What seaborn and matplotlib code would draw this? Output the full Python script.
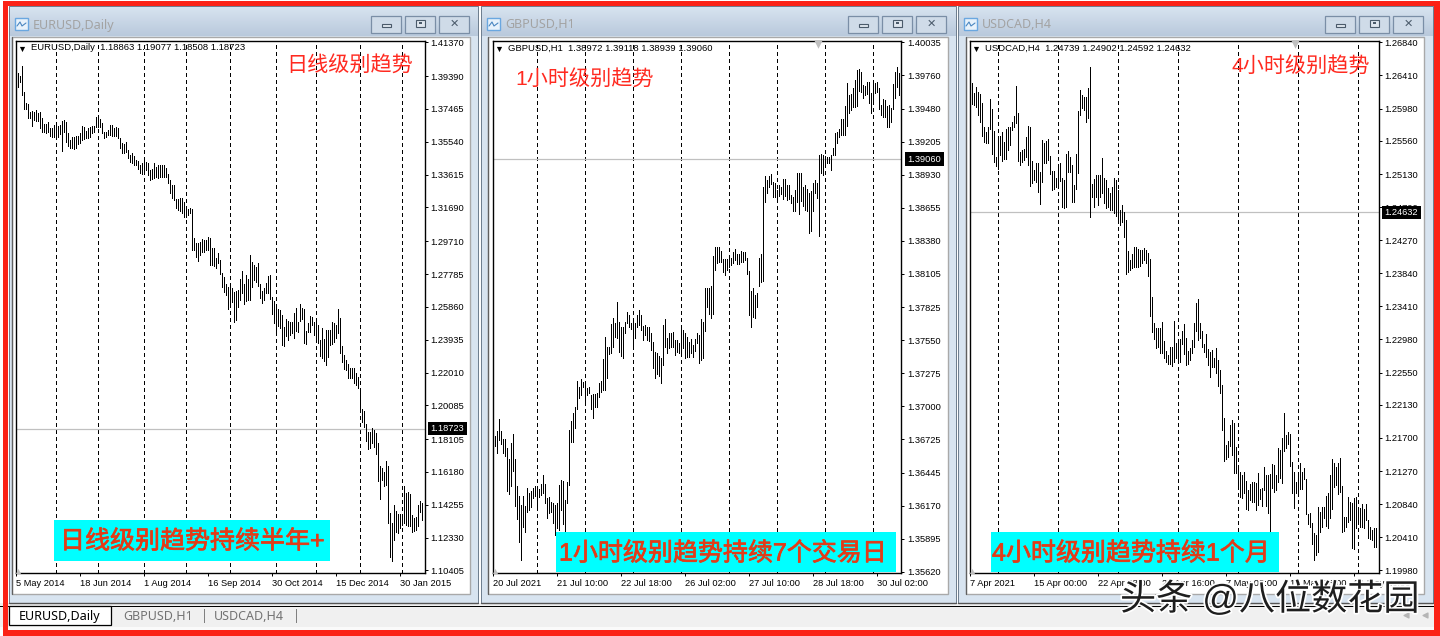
import numpy as np
import pandas as pd
import matplotlib
matplotlib.use("Agg")
import matplotlib.pyplot as plt
import matplotlib.patheffects as pe
from matplotlib.patches import Rectangle
import seaborn as sns

# ---------- data: (high, low) of each bar ----------
eur_hl = [(13887,13861),(13955,13873),(13940,13906),(13998,13828),(13844,13744),(13779,13744),(13775,13691),(13730,13691),(13734,13648),(13728,13682),(13738,13678),(13721,13678),(13728,13633),(13691,13613),(13658,13613),(13658,13607),(13668,13613),(13633,13590),(13637,13584),(13652,13584),(13656,13580),(13646,13584),(13652,13598),(13676,13500),(13682,13609),(13668,13555),(13603,13529),(13564,13515),(13580,13515),(13584,13512),(13588,13515),(13588,13541),(13603,13545),(13646,13564),(13642,13568),(13619,13574),(13633,13574),(13642,13580),(13646,13603),(13646,13613),(13701,13642),(13701,13639),(13685,13639),(13666,13607),(13613,13574),(13613,13584),(13623,13594),(13652,13594),(13652,13588),(13633,13590),(13642,13588),(13637,13574),(13574,13515),(13545,13490),(13541,13486),(13555,13496),(13506,13457),(13476,13437),(13486,13428),(13471,13418),(13447,13418),(13443,13392),(13418,13369),(13428,13365),(13447,13369),(13433,13388),(13428,13359),(13388,13330),(13394,13336),(13431,13340),(13408,13349),(13418,13340),(13418,13349),(13418,13349),(13418,13345),(13398,13349),(13365,13310),(13330,13252),(13300,13222),(13300,13213),(13218,13164),(13218,13154),(13222,13148),(13222,13138),(13203,13115),(13173,13111),(13158,13125),(13164,13138),(13158,12919),
(12988,12919),(12963,12880),(12963,12857),(12964,12890),(12982,12910),(12978,12910),(12978,12919),(12994,12919),(12988,12832),(12933,12832),(12929,12826),(12871,12812),(12904,12841),(12861,12777),(12783,12701),(12763,12675),(12720,12656),(12701,12572),(12708,12583),(12695,12617),(12675,12499),(12681,12509),(12685,12583),(12750,12626),(12796,12665),(12720,12603),(12773,12622),(12748,12626),(12890,12626),(12847,12705),(12832,12744),(12822,12734),(12845,12708),(12720,12636),(12681,12611),(12695,12626),(12728,12665),(12767,12669),(12773,12630),(12642,12544),(12622,12490),(12587,12441),(12572,12474),(12568,12460),(12538,12363),(12470,12359),(12513,12415),(12505,12392),(12499,12421),(12499,12431),(12552,12402),(12578,12447),(12499,12441),(12603,12505),(12578,12513),(12572,12376),(12447,12367),(12490,12441),(12533,12441),(12525,12480),(12499,12421),(12509,12382),(12480,12372),(12392,12298),(12460,12284),(12398,12271),(12451,12245),(12451,12294),(12451,12363),(12499,12367),(12490,12382),(12480,12402),(12574,12431),(12519,12318),(12357,12265),(12304,12220),(12275,12216),(12251,12167),(12226,12167),(12226,12167),(12226,12138),(12197,12128),(12177,12109),(12109,11987),(11985,11913),(11976,11884),
(11900,11802),(11851,11753),(11855,11757),(11874,11786),(11864,11767),(11845,11724),(11790,11567),(11653,11460),(11644,11571),(11620,11538),(11683,11542),(11653,11317),(11376,11118),(11317,11096),(11425,11220),(11392,11268),(11372,11263),(11372,11288),(11372,11307),(11536,11317),(11493,11307),(11499,11302),(11489,11302),(11366,11268),(11347,11274),(11356,11278),(11425,11302),(11448,11386),(11435,11337)]

gbp_hl = [(136718,136668),(136752,136668),(136793,136607),(136893,136718),(136793,136685),(136727,136607),(136724,136585),(136649,136296),(136560,136268),(136690,136337),(136768,136462),(136560,136171),(136335,136062),(136251,135870),(136176,135717),(136251,135995),(136168,135954),(136315,136120),(136279,136134),(136296,136157),(136315,136232),(136335,136251),(136301,136171),(136307,136240),(136351,136260),(136426,136279),(136351,136196),(136232,136065),(136246,136107),(136204,136120),(136190,136029),(136176,135926),(136190,135981),(136343,135968),(136385,136134),(136379,136018),(136218,135954),(136371,136190),(136802,136343),(136877,136702),(136943,136702),(136993,136818),(137214,136975),(137164,137072),(137228,137094),(137205,137164),(137200,137025),(137155,137094),(137164,137108),(137094,136975),(137100,136905),(137102,136991),(137108,136997),(137197,137080),(137211,137122),(137394,137136),(137581,137136),(137497,137239),(137492,137436),(137686,137442),(137739,137492),(137692,137581),(137867,137567),(137706,137455),(137664,137419),(137664,137400),(137706,137614),(137789,137692),(137761,137664),(137697,137642),(137706,137483),(137692,137567),(137761,137658),(137803,137678),(137761,137636),(137670,137553),(137678,137594),(137664,137553),(137664,137547),(137614,137469),(137533,137317),(137450,137239),(137442,137266),(137422,137253),(137400,137197),(137678,137344),(137728,137492),(137567,137442),(137614,137483),(137614,137492),(137622,137497),(137553,137428),(137553,137456),(137525,137442),(137650,137428),(137636,137483),(137614,137405),(137581,137408),(137539,137408),(137561,137442),(137511,137414),(137561,137464),(137608,137525),(137594,137364),(137728,137386),(137700,137405),(137984,137631),(137989,137831),(137984,137770),(138006,137733),(138253,137770),(138326,138137),(138326,138192),(138331,138206),(138298,138206),(138228,138123),(138228,138095),(138228,138137),(138248,138164),(138234,138178),(138289,138192),(138309,138220),(138270,138184),(138270,138184),(138298,138206),(138289,138206),(138289,138220),(138234,138103),(138128,137761),(137961,137664),(137984,137747),(137928,137733),(137942,137831),(138234,138003),(138270,138039),(138828,138045),(138920,138703),(138887,138778),(138920,138828),(138937,138853),(138870,138745),(138862,138745),(138803,138728),(138845,138753),(138828,138770),(138895,138728),(138895,138753),(138845,138720),(138845,138728),(138762,138695),(138745,138628),(138803,138628),(138945,138703),(138945,138603),(138945,138712),(138828,138670),(138845,138637),(138812,138628),(138778,138445),(138795,138461),(138862,138628),(138887,138778),(138862,138737),(139095,138420),(139104,138942),(139095,138929),(139087,139026),(139081,139026),(139081,139026),(139095,138970),(139151,139095),(139282,139095),(139290,139193),(139309,139248),(139393,139262),(139393,139262),(139504,139262),(139693,139337),(139596,139443),(139604,139471),(139651,139498),(139721,139498),(139804,139504),(139810,139632),(139790,139624),(139679,139568),(139671,139596),(139707,139604),(139707,139526),(139610,139443),(139693,139526),(139693,139610),(139707,139624),(139651,139476),(139512,139429),(139562,139415),(139554,139409),(139504,139332),(139512,139332),(139484,139373),(139685,139476),(139790,139568),(139832,139660),(139782,139596)]

cad_hl = [(126338,125991),(126308,126039),(126178,126026),(126256,126004),(126199,125896),(126169,125810),(126048,125623),(125745,125550),(125680,125537),(125745,125528),(126104,125710),(125970,125390),(125688,125290),(125355,125238),(125623,125195),(125623,125377),(125680,125303),(125550,125320),(125710,125320),(125745,125442),(125745,125506),(125810,125701),(125883,125745),(126273,125797),(125918,125303),(125420,125247),(125442,125290),(125455,125312),(125606,125355),(125753,125247),(125745,124974),(125299,125017),(125182,125052),(125268,125030),(125268,124900),(125160,124740),(125571,125030),(125528,125277),(125563,125268),(125580,125312),(125364,125125),(125169,124922),(125173,124931),(125082,124965),(125247,124987),(125268,125039),(125073,124705),(125052,124684),(125390,124697),(125428,125160),(125355,125160),(125247,124770),(124987,124770),(125390,124931),(125948,125138),(126221,125896),(126156,125983),(126134,125961),(126134,125810),(126243,125853),(126524,124576),(125000,124835),(125065,124705),(125117,124835),(125117,124727),(125117,124835),(125333,124887),(125082,124749),(125052,124684),(124943,124705),(124879,124662),(124965,124662),(125073,124619),(125052,124584),(124922,124532),(124662,124467),(124727,124510),(124640,124316),(124532,123826),(124134,123861),(124012,123883),(124090,123904),(124177,123917),(124177,123926),(124151,123926),(124142,123935),(124142,123969),(124164,124012),(124142,123978),(124108,123809),(124025,123285),(123527,123081),(123190,122986),(123125,122865),(123125,122887),(123125,122800),(123203,122809),(122965,122735),(122830,122692),(122778,122661),(122878,122661),(122878,122640),(123220,122692),(122930,122735),(122969,122683),(122986,122683),(123095,122917),(123181,122791),(122995,122649),(122835,122661),(122865,122713),(122973,122809),(123190,122878),(123458,123095),(123502,122973),(123190,122995),(123095,122878),(122921,122822),(123051,122757),(122852,122649),(122822,122497),(122843,122618),(122744,122618),(122874,122549),(122714,122380),(122584,122289),(122389,121804),(121960,121406),(121609,121423),(121661,121449),(121869,121596),(121934,121479),(121895,121250),(121583,121241),(121328,121068),(121263,120929),(121220,120916),(121254,120990),(121142,120774),(121025,120765),(121103,120895),(121133,120873),(121124,120873),(121111,120765),(121250,120830),(121033,120903),(121046,120817),(121319,121025),(121220,120817),(121220,120722),(121228,120483),(121362,121046),(121349,121003),(121220,121025),(121566,121133),(121544,121176),(121696,121120),(122025,121531),(121739,121570),(121778,121622),(121752,121336),(121393,120990),(121263,120787),(121133,120990),(121263,120990),(121371,121033),(121263,121033),(121306,121163),(121163,120713),(120713,120583),(120722,120540),(120592,120323),(120470,120115),(120440,120180),(120800,120224),(120743,120483),(120800,120548),(120808,120657),(120947,120557),(120990,120527),(121220,120657),(121423,120774),(121380,121068),(121328,121090),(121380,120973),(121436,121003),(121077,120483),(120670,120496),(120670,120548),(120938,120613),(120873,120635),(120851,120267),(120916,120254),(120929,120527),(120765,120635),(120787,120540),(120843,120540),(120774,120527),(120843,120635),(120635,120397),(120548,120384),(120505,120375),(120527,120289),(120527,120280)]

eur_scale, gbp_scale, cad_scale = 1e-4, 1e-5, 1e-5

eur_yticks = ["1.41370","1.39390","1.37465","1.35540","1.33615","1.31690","1.29710","1.27785","1.25860","1.23935","1.22010","1.20085","1.18105","1.16180","1.14255","1.12330","1.10405"]
gbp_yticks = ["1.40035","1.39760","1.39480","1.39205","1.38930","1.38655","1.38380","1.38105","1.37825","1.37550","1.37275","1.37000","1.36725","1.36445","1.36170","1.35895","1.35620"]
cad_yticks = ["1.26840","1.26410","1.25980","1.25560","1.25130","1.24700","1.24270","1.23840","1.23410","1.22980","1.22550","1.22130","1.21700","1.21270","1.20840","1.20410","1.19980"]

eur_xlabels = ["5 May 2014","18 Jun 2014","1 Aug 2014","16 Sep 2014","30 Oct 2014","15 Dec 2014","30 Jan 2015"]
gbp_xlabels = ["20 Jul 2021","21 Jul 10:00","22 Jul 18:00","26 Jul 02:00","27 Jul 10:00","28 Jul 18:00","30 Jul 02:00"]
cad_xlabels = ["7 Apr 2021","15 Apr 00:00","22 Apr 08:00","29 Apr 16:00","7 May 00:00","14 May 08:00","21 May 16:00"]
xlabel_step = 32

eur_seps = [20,41,64,85,107,130,150,172,193]
gbp_seps = [22,46,70,94,118,142,166,190]
cad_seps = [14,44,74,104,134,164,194]

eur_ylim = (1.10240, 1.41466)
gbp_ylim = (1.35606, 1.40049)
cad_ylim = (1.19942, 1.26862)

panels = [
    dict(hl=eur_hl, scale=eur_scale, yticks=eur_yticks, xlabels=eur_xlabels, seps=eur_seps, ylim=eur_ylim,
         close="1.18723", title="EURUSD,Daily", head="EURUSD,Daily  1.18863 1.19077 1.18508 1.18723",
         win=(9,478), frame=(12,470), plot=(15.5,424.5), btn=(370.5,404.5,438.5), shift=None),
    dict(hl=gbp_hl, scale=gbp_scale, yticks=gbp_yticks, xlabels=gbp_xlabels, seps=gbp_seps, ylim=gbp_ylim,
         close="1.39060", title="GBPUSD,H1", head="GBPUSD,H1  1.38972 1.39118 1.38939 1.39060",
         win=(481,956), frame=(488,948), plot=(492.5,901.5), btn=(847.5,881.5,915.5), shift=817.5),
    dict(hl=cad_hl, scale=cad_scale, yticks=cad_yticks, xlabels=cad_xlabels, seps=cad_seps, ylim=cad_ylim,
         close="1.24632", title="USDCAD,H4", head="USDCAD,H4  1.24739 1.24902 1.24592 1.24632",
         win=(958,1433), frame=(966,1424), plot=(969.5,1378.5), btn=(1324.5,1358.5,1392.5), shift=1294.5),
]

sns.set_theme(style="white")
plt.rcParams['font.family'] = ['Liberation Sans', 'Noto Sans CJK SC', 'DejaVu Sans']
plt.rcParams['axes.unicode_minus'] = False

W, H = 1440, 636
fig = plt.figure(figsize=(W/100, H/100), dpi=100, facecolor="white")

bg = fig.add_axes([0, 0, 1, 1], zorder=0)
ov = fig.add_axes([0, 0, 1, 1], zorder=5)
ov.patch.set_visible(False)

PX = 0.72
def rect(ax, x0, y0, x1, y1, fc, ec="none", lw=0, z=1):
    ax.add_patch(Rectangle((x0, y0), x1-x0, y1-y0, facecolor=fc, edgecolor=ec, linewidth=lw, zorder=z))

# tab strip
rect(bg, 0, 603, W, 630, "#f0f0f0")
rect(bg, 0, 605.6, W, 606.6, "#000000", z=2)
rect(bg, 0, 626.5, W, 630, "#fafafa", z=2)

grad = np.linspace(0, 1, 64).reshape(-1, 1)
for p in panels:
    wl, wr = p["win"]
    fl, fr = p["frame"]
    rect(bg, wl, 6, wr, 603.5, "#d8e4f0", z=2)
    bg.imshow(grad, extent=(wl, wr, 36, 6), aspect="auto", cmap=matplotlib.colors.LinearSegmentedColormap.from_list("t", ["#b9c9dc", "#d8e4f0"]).reversed(), zorder=3)
    bg.plot([wl, wl, wr, wr], [603, 6, 6, 603], color="#6f7f90", lw=PX, zorder=4)
    bg.plot([wl, wr], [603.3, 603.3], color="#555555", lw=1.0, zorder=4)
    rect(bg, fl, 37, fr, 594, "#ffffff", ec="#a9a9a9", lw=1.0, z=4)
    bg.plot([fl, fl], [37, 594], color="#606060", lw=0.9, zorder=5)
    # title text, icon
    bg.text(wl + (33-9), 25, p["title"], color="#a3a3a3", fontsize=9.0, va="center", ha="left", zorder=6, family=["Noto Sans", "DejaVu Sans"])
    rect(bg, wl+6, 18, wl+19, 30, "#e8f2fb", ec="#6aa7e0", lw=1.0, z=6)
    bg.plot([wl+8, wl+11, wl+13, wl+17], [26, 22, 26, 23], color="#4a86c0", lw=0.8, zorder=7)
    # caption buttons
    for i, bx in enumerate(p["btn"]):
        rect(bg, bx, 15.5, bx+30.5, 32.5, "#cfdbe8", ec="#7a8ea6", lw=0.9, z=6)
        if i == 0:
            rect(bg, bx+11, 23.5, bx+20, 27, "#dfe6ee", ec="#4a5a6a", lw=0.8, z=7)
        elif i == 1:
            rect(bg, bx+11, 19.5, bx+20, 27, "#dfe6ee", ec="#4a5a6a", lw=0.8, z=7)
            rect(bg, bx+14, 22, bx+17, 24, "#4a5a6a", z=8)
        else:
            bg.text(bx+15.5, 23.8, "✕", color="#4a5a6a", fontsize=8, ha="center", va="center", zorder=7, family=["DejaVu Sans"])
bg.set_xlim(0, W); bg.set_ylim(H, 0); bg.axis("off")

# frame border in red
RED = "#fb2216"
rect(ov, 3, 1, W, 5.5, RED, z=1)
rect(ov, 3, 1, 8.3, 636, RED, z=1)
rect(ov, 1434, 1, W, 636, RED, z=1)
rect(ov, 3, 630.3, W, 636, RED, z=1)

# tabs
rect(bg, 8.5, 605.5, 110.5, 625, "#ffffff", ec="#000000", lw=0.9, z=3)
bg.text(19, 616.7, "EURUSD,Daily", fontsize=9.0, color="#000000", ha="left", va="center", zorder=6, family=["Noto Sans", "DejaVu Sans"])
bg.text(123, 616.7, "GBPUSD,H1", fontsize=9.0, color="#737373", ha="left", va="center", zorder=6, family=["Noto Sans", "DejaVu Sans"])
bg.text(214, 616.7, "USDCAD,H4", fontsize=9.0, color="#737373", ha="left", va="center", zorder=6, family=["Noto Sans", "DejaVu Sans"])
for sx in (203.5, 295.5):
    rect(bg, sx, 609, sx+1, 623, "#808080", z=6)
bg.scatter([1406, 1425], [615, 615], marker="<", s=12, color="#b5b5b5", zorder=6)

# price panels
T, B = 40.7, 573.3
for p in panels:
    l, r = p["plot"]
    ax = fig.add_axes([l/W, 1-B/H, (r-l)/W, (B-T)/H], zorder=2)
    ax.set_facecolor("white")
    highs = [h*p["scale"] for h, _ in p["hl"]]
    lows = [q*p["scale"] for _, q in p["hl"]]
    idx = np.arange(len(highs))
    df = pd.DataFrame({
        "bar": np.concatenate([idx, idx]),
        "price": highs + lows,
    })
    for s in p["seps"]:
        ax.axvline(s, color="black", lw=PX, linestyle=(0, (3, 3)), zorder=1, antialiased=False)
    close = float(p["close"])
    ax.axhline(close, color="#c0c0c0", lw=0.9, zorder=1.5)
    sns.lineplot(data=df, x="bar", y="price", units="bar", estimator=None, sort=True,
                 color="black", linewidth=0.6, solid_capstyle="butt", antialiased=False,
                 legend=False, ax=ax, zorder=3)
    ax.set_xlim(-0.25, (r-l)/2 - 0.25)
    ax.set_ylim(*p["ylim"])
    ax.set_xlabel(""); ax.set_ylabel("")
    ax.yaxis.tick_right()
    ax.set_yticks([float(t) for t in p["yticks"]])
    ax.set_yticklabels(p["yticks"])
    ax.set_xticks([i*xlabel_step for i in range(len(p["xlabels"]))])
    ax.set_xticklabels(p["xlabels"], ha="left")
    ax.tick_params(axis="both", which="major", length=2.2, width=PX, color="black",
                   labelsize=6.7, labelcolor="black", pad=2.2, left=False, right=True, bottom=True, labelright=True, labelleft=False)
    for sp in ax.spines.values():
        sp.set_visible(True); sp.set_color("black"); sp.set_linewidth(1.0)
    # header line
    ax.text(15.5/(r-l), 1-(48-T)/(B-T), p["head"], transform=ax.transAxes, fontsize=6.8, color="black", va="center", ha="left", zorder=6)
    ax.scatter([(6.5)/(r-l)], [1-(48.5-T)/(B-T)], marker="v", s=14, color="black", transform=ax.transAxes, zorder=6, linewidths=0)
    # corner grey triangle
    ax.scatter([2.5/(r-l)], [2.5/(B-T)], marker="^", s=14, color="#c0c0c0", transform=ax.transAxes, zorder=6, linewidths=0)
    if p["shift"] is not None:
        ax.scatter([(p["shift"]-l)/(r-l)], [1-2.8/(B-T)], marker="v", s=38, color="#c0c0c0", transform=ax.transAxes, zorder=6, linewidths=0, clip_on=False)
    # current price box
    ax.annotate(p["close"], xy=(1, close), xycoords=("axes fraction", "data"), xytext=(6.2*PX, 0), textcoords="offset points",
                color="white", fontsize=6.7, va="center", ha="left", annotation_clip=False, zorder=10,
                bbox=dict(boxstyle="square,pad=0.25", fc="black", ec="black", lw=0))

# annotations
red_txt = "#ff2a20"
ov.text(286, 66, "日线级别趋势", color=red_txt, fontsize=15.2, ha="left", va="center", zorder=6)
ov.text(515, 79.5, "1小时级别趋势", color=red_txt, fontsize=15.2, ha="left", va="center", zorder=6)
ov.text(1232, 67, "4小时级别趋势", color=red_txt, fontsize=15.2, ha="left", va="center", zorder=6)

cy = "#00ffff"
org = "#e23c18"
rect(ov, 54, 520, 330, 561, cy, z=4)
rect(ov, 556, 531.7, 895.7, 572.3, cy, z=4)
rect(ov, 990.7, 531.7, 1279.3, 572.3, cy, z=4)
stroke = [pe.withStroke(linewidth=0.5, foreground=org)]
ov.text(60, 541.5, "日线级别趋势持续半年+", color=org, fontsize=18, ha="left", va="center", zorder=6, path_effects=stroke)
ov.text(559, 553.5, "1小时级别趋势持续7个交易日", color=org, fontsize=18, ha="left", va="center", zorder=6, path_effects=stroke)
ov.text(992, 553.5, "4小时级别趋势持续1个月", color=org, fontsize=18, ha="left", va="center", zorder=6, path_effects=stroke)

# watermark
ov.text(1120, 600, "头条 @八位数花园", color="#1e1e1e", fontsize=26, ha="left", va="center", zorder=7,
        path_effects=[pe.withStroke(linewidth=2.5, foreground="white")])

ov.set_xlim(0, W); ov.set_ylim(H, 0); ov.axis("off")
fig.savefig("out.png", dpi=100, facecolor="white")
print(len(eur_hl), len(gbp_hl), len(cad_hl))
